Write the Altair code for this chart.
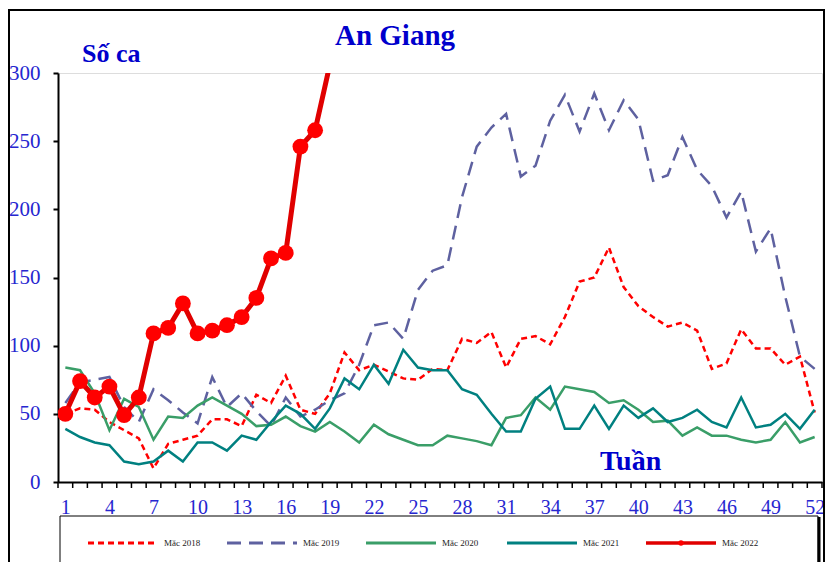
import altair as alt
import pandas as pd

# ---------------- data ----------------
weeks = list(range(1, 53))
series_names = ["Mắc 2018", "Mắc 2019", "Mắc 2020", "Mắc 2021", "Mắc 2022"]

cases_2018 = [50, 54, 53, 44, 38, 32, 10, 28, 31, 34, 46, 46, 41, 64, 58, 78, 53, 50, 65, 95,
              82, 86, 81, 76, 75, 83, 82, 105, 102, 110, 84, 105, 107, 101, 121, 147, 150, 172, 143, 129,
              121, 114, 117, 111, 83, 87, 112, 98, 98, 86, 92, 51]
cases_2019 = [58, 73, 75, 77, 55, 44, 68, 60, 51, 43, 77, 55, 65, 52, 41, 62, 48, 53, 60, 65,
              86, 115, 117, 105, 141, 155, 159, 209, 246, 260, 270, 224, 232, 265, 284, 257, 285, 258, 280, 266,
              221, 225, 253, 229, 217, 194, 213, 169, 186, 136, 92, 83]
cases_2020 = [84, 82, 65, 38, 61, 55, 31, 48, 47, 56, 62, 56, 50, 41, 42, 48, 41, 37, 44, 37,
              29, 42, 35, 31, 27, 27, 34, 32, 30, 27, 47, 49, 62, 53, 70, 68, 66, 58, 60, 53,
              44, 45, 34, 40, 34, 34, 31, 29, 31, 44, 29, 33]
cases_2021 = [39, 33, 29, 27, 15, 13, 15, 23, 15, 29, 29, 23, 34, 31, 44, 56, 50, 39, 54, 76,
              68, 86, 72, 97, 84, 82, 82, 68, 64, 50, 37, 37, 61, 70, 39, 39, 56, 39, 56, 47,
              54, 44, 47, 53, 44, 40, 62, 40, 42, 50, 39, 53]
cases_2022 = [50, 74, 62, 70, 49, 62, 109, 113, 131, 109, 111, 115, 121, 135, 164, 168, 246, 258, 306]

x_label_values = list(range(1, 53, 3))
y_tick_values = [0, 50, 100, 150, 200, 250, 300]
x_boundaries = [0.5 + i for i in range(53)]

all_values = [cases_2018, cases_2019, cases_2020, cases_2021, cases_2022]

rows = []
for name, vals in zip(series_names, all_values):
    for w, v in zip(weeks, vals):
        rows.append({"week": w, "cases": v, "series": name})
df = pd.DataFrame(rows)

styles = {
    "Mắc 2018": dict(color="#FF0000", strokeDash=[6, 4], strokeWidth=2.5),
    "Mắc 2019": dict(color="#5E61A0", strokeDash=[14, 8], strokeWidth=2.5),
    "Mắc 2020": dict(color="#3A9E68", strokeWidth=2.5),
    "Mắc 2021": dict(color="#008080", strokeWidth=2.5),
    "Mắc 2022": dict(color="#E00000", strokeWidth=5),
}

FONT = "Liberation Serif"
BLUE = "#0000CC"
LBLUE = "#2626D0"

xscale = alt.Scale(domain=[0.5, 52.5], nice=False, zero=False)
yscale = alt.Scale(domain=[0, 300], nice=False)

xaxis = alt.Axis(values=x_label_values, ticks=False, grid=False, title=None,
                 domainColor="black", domainWidth=2, labelFont=FONT, labelFontSize=20,
                 labelColor=LBLUE, labelPadding=15, labelFlush=False, labelOverlap=False)
yaxis = alt.Axis(values=y_tick_values, grid=False, title=None, tickSize=5, tickWidth=2,
                 tickColor="black", domainColor="black", domainWidth=2, labelFont=FONT,
                 labelFontSize=21, labelColor=LBLUE, labelPadding=13)

one = pd.DataFrame({"a": [0]})

layers = []

# outer frame
layers.append(alt.Chart(one).mark_rect(fill=None, stroke="black", strokeWidth=2, clip=False).encode(
    x=alt.value(-49), x2=alt.value(766), y=alt.value(-63), y2=alt.value(510)))

# x ticks between categories
ticks_df = pd.DataFrame({"b": x_boundaries})
layers.append(alt.Chart(ticks_df).mark_rule(color="black", strokeWidth=1.5).encode(
    x=alt.X("b:Q", scale=xscale, axis=xaxis), y=alt.value(409), y2=alt.value(415)))

# series lines
for name in series_names:
    st = styles[name]
    sub = df[df["series"] == name]
    layers.append(alt.Chart(sub).mark_line(clip=True, **st).encode(
        x=alt.X("week:Q", scale=xscale, axis=xaxis),
        y=alt.Y("cases:Q", scale=yscale, axis=yaxis)))

sub22 = df[df["series"] == "Mắc 2022"]
layers.append(alt.Chart(sub22).mark_point(filled=True, color="#FF0000", size=250, opacity=1, clip=True).encode(
    x=alt.X("week:Q", scale=xscale), y=alt.Y("cases:Q", scale=yscale)))

# texts
layers.append(alt.Chart(one).mark_text(text="An Giang", font=FONT, fontSize=29, fontWeight="bold",
                                        color=BLUE, align="center", baseline="alphabetic").encode(
    x=alt.value(337), y=alt.value(-28)))
layers.append(alt.Chart(one).mark_text(text="Số ca", font=FONT, fontSize=26, fontWeight="bold",
                                        color=BLUE, align="left", baseline="alphabetic").encode(
    x=alt.value(24), y=alt.value(-11)))
layers.append(alt.Chart(one).mark_text(text="Tuần", font=FONT, fontSize=28, fontWeight="bold",
                                        color=BLUE, align="left", baseline="alphabetic").encode(
    x=alt.value(542), y=alt.value(397)))

# legend box
layers.append(alt.Chart(one).mark_rect(fill="white", stroke="black", strokeWidth=1, clip=False).encode(
    x=alt.value(2), x2=alt.value(760), y=alt.value(443), y2=alt.value(495)))
layers.append(alt.Chart(one).mark_rule(color="black", strokeWidth=3).encode(
    x=alt.value(761), y=alt.value(444), y2=alt.value(497)))
layers.append(alt.Chart(one).mark_rule(color="black", strokeWidth=3).encode(
    x=alt.value(3), x2=alt.value(762), y=alt.value(496)))

leg_x = [30, 169, 308, 449, 588]
for name, lx in zip(series_names, leg_x):
    st = styles[name]
    lw = 3 if name != "Mắc 2022" else 3.5
    kw = dict(color=st["color"], strokeWidth=lw)
    if "strokeDash" in st:
        kw["strokeDash"] = st["strokeDash"]
    layers.append(alt.Chart(one).mark_rule(**kw).encode(
        x=alt.value(lx), x2=alt.value(lx + 70), y=alt.value(470)))
    layers.append(alt.Chart(one).mark_text(text=name, font=FONT, fontSize=9, color="#222222",
                                            align="left", baseline="middle").encode(
        x=alt.value(lx + 76), y=alt.value(470)))
    if name == "Mắc 2022":
        layers.append(alt.Chart(one).mark_point(filled=True, color="#FF0000", size=30, opacity=1).encode(
            x=alt.value(lx + 35), y=alt.value(470)))

chart = alt.layer(*layers).properties(
    width=764, height=409,
    autosize=alt.AutoSizeParams(type="none"),
    padding={"left": 50, "top": 65, "right": 3, "bottom": 80},
).configure_view(stroke=None).configure(background="white")

chart.save("out.html", embed_options={"renderer": "svg", "actions": False})
